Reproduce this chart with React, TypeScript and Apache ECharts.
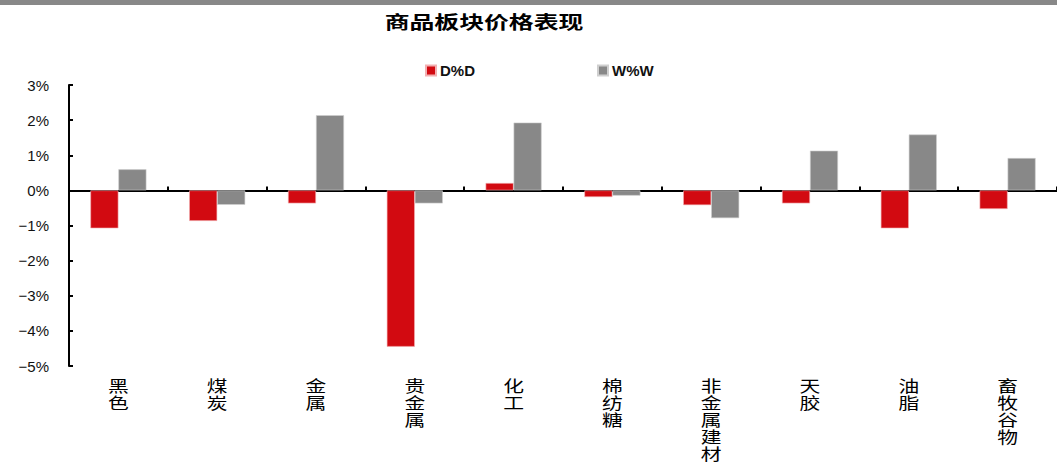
import React, { useEffect, useRef } from "react";
import * as echarts from "echarts";

const categories = ["黑色", "煤炭", "金属", "贵金属", "化工", "棉纺糖", "非金属建材", "天胶", "油脂", "畜牧谷物"];
const dod = [-1.08, -0.87, -0.37, -4.45, 0.21, -0.19, -0.42, -0.37, -1.08, -0.53];
const wow = [0.6, -0.41, 2.14, -0.37, 1.93, -0.15, -0.79, 1.13, 1.59, 0.92];
const yTicks = { min: -5, max: 3, interval: 1 };
const titleText = "商品板块价格表现";

export default function App() {
  const ref = useRef<HTMLDivElement>(null);
  useEffect(() => {
    document.body.style.margin = "0";
    const chart = echarts.init(ref.current!, null, { renderer: "svg" });
    const font = "Arial, 'Liberation Sans', 'Noto Sans CJK SC', sans-serif";
    const baseGraphic: any[] = [
      { type: "rect", shape: { x: 0, y: 0, width: 1057, height: 5 }, style: { fill: "#888888" } },
      {
        type: "text",
        x: 484,
        y: 21,
        scaleX: 1.38,
        style: {
          text: titleText,
          font: "bold 18px 'Noto Sans CJK SC', sans-serif",
          fill: "#000",
          textAlign: "center",
          textVerticalAlign: "middle",
        },
      },
    ];
    chart.setOption({
      animation: false,
      backgroundColor: "#ffffff",
      graphic: baseGraphic,
      legend: {
        left: 420,
        top: 58,
        itemWidth: 10,
        itemHeight: 10,
        itemGap: 122,
        icon: "rect",
        textStyle: { fontFamily: font, fontWeight: "bold", fontSize: 15, color: "#111", padding: [0, 0, 0, -1] },
        data: ["D%D", "W%W"],
      },
      grid: { left: 69, top: 85, bottom: 97, right: -7, containLabel: false },
      xAxis: {
        type: "category",
        data: categories,
        position: "bottom",
        axisLine: { onZero: true, lineStyle: { color: "#000", width: 2 } },
        axisTick: { show: true, inside: true, length: 4, lineStyle: { color: "#000", width: 2 } },
        axisLabel: { show: false },
      },
      yAxis: {
        type: "value",
        min: yTicks.min,
        max: yTicks.max,
        interval: yTicks.interval,
        splitLine: { show: false },
        axisLine: { show: true, lineStyle: { color: "#000", width: 2 } },
        axisTick: { show: true, inside: true, length: 4, lineStyle: { color: "#000", width: 2 } },
        axisLabel: {
          fontFamily: font,
          fontSize: 15,
          color: "#111",
          margin: 20,
          formatter: (v: number) => (v < 0 ? "\u2212" + Math.abs(v) : String(v)) + "%",
        },
      },
      series: [
        {
          name: "D%D",
          type: "bar",
          data: dod,
          barWidth: 28,
          barGap: "0%",
          itemStyle: { color: "#D20A11", borderColor: "#f2b0b2", borderWidth: 0.6 },
        },
        {
          name: "W%W",
          type: "bar",
          data: wow,
          barWidth: 28,
          barGap: "0%",
          itemStyle: { color: "#888888", borderColor: "#cfcfcf", borderWidth: 0.6 },
        },
      ],
    });
    const bottomY = chart.convertToPixel({ yAxisIndex: 0 }, yTicks.min) as number;
    const labels = categories.map((c) => {
      const x = chart.convertToPixel({ xAxisIndex: 0 }, c) as number;
      return {
        type: "text",
        x,
        y: bottomY + 10,
        scaleX: 1.3,
        style: {
          text: c.split("").join("\n"),
          font: "16px 'Noto Sans CJK SC', sans-serif",
          lineHeight: 17,
          fill: "#000",
          textAlign: "center",
          textVerticalAlign: "top",
        },
      };
    });
    chart.setOption({ graphic: [...baseGraphic, ...labels] });
    return () => chart.dispose();
  }, []);
  return <div ref={ref} style={{ width: 1057, height: 463 }} />;
}
